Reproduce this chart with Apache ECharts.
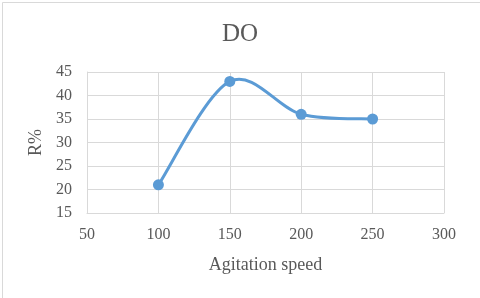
<!DOCTYPE html>
<html>
<head>
<meta charset="utf-8">
<script src="https://cdn.jsdelivr.net/npm/echarts@6/dist/echarts.min.js"></script>
<style>
html,body{margin:0;padding:0;background:#fff;}
#c{width:480px;height:298px;}
</style>
</head>
<body>
<div id="c"></div>
<script>
var speeds = [100, 150, 200, 250];
var rValues = [21, 43, 36, 35];
var titleText = 'DO';
var xName = 'Agitation speed';
var yName = 'R%';

var points = speeds.map(function (s, i) { return [s, rValues[i]]; });

var chart = echarts.init(document.getElementById('c'), null, {renderer: 'canvas'});
var font = '"Liberation Serif", "Times New Roman", serif';
var txt = '#595959';
var grid = '#d9d9d9';
var blue = '#5b9bd5';

function renderCurve(params, api) {
  if (params.dataIndex !== 0) return null;
  var p = points.map(function (d) { return api.coord(d); });
  var n = p.length;
  var d = 'M' + p[0][0] + ' ' + p[0][1];
  for (var i = 0; i < n - 1; i++) {
    var p0 = p[i - 1] || p[i];
    var p1 = p[i];
    var p2 = p[i + 1];
    var p3 = p[i + 2] || p[i + 1];
    var c1x = p1[0] + (p2[0] - p0[0]) / 6;
    var c1y = p1[1] + (p2[1] - p0[1]) / 6;
    var c2x = p2[0] - (p3[0] - p1[0]) / 6;
    var c2y = p2[1] - (p3[1] - p1[1]) / 6;
    d += ' C' + c1x + ' ' + c1y + ' ' + c2x + ' ' + c2y + ' ' + p2[0] + ' ' + p2[1];
  }
  return {
    type: 'path',
    shape: {pathData: d},
    style: {fill: 'none', stroke: blue, lineWidth: 3}
  };
}

chart.setOption({
  animation: false,
  backgroundColor: '#fff',
  graphic: [{
    type: 'rect', left: 0, top: 0, z: -1,
    shape: {x: 0.5, y: 0.5, width: 479, height: 297},
    style: {fill: 'none', stroke: '#d9d9d9', lineWidth: 1}
  }],
  title: {
    text: titleText, left: 'center', top: 17,
    textStyle: {fontFamily: font, fontSize: 25, fontWeight: 'normal', color: txt}
  },
  grid: {left: 87, right: 36, top: 72, bottom: 85, containLabel: false},
  xAxis: {
    type: 'value', min: 50, max: 300, interval: 50,
    name: xName, nameLocation: 'middle', nameGap: 43,
    nameTextStyle: {fontFamily: font, fontSize: 18, color: txt},
    axisLine: {show: true, lineStyle: {color: grid, width: 1}},
    axisTick: {show: false},
    axisLabel: {fontFamily: font, fontSize: 16, color: txt, margin: 14},
    splitLine: {show: true, lineStyle: {color: grid, width: 1}}
  },
  yAxis: {
    type: 'value', min: 15, max: 45, interval: 5,
    name: yName, nameLocation: 'middle', nameGap: 41, nameRotate: 90,
    nameTextStyle: {fontFamily: font, fontSize: 18, color: txt},
    axisLine: {show: true, lineStyle: {color: grid, width: 1}},
    axisTick: {show: false},
    axisLabel: {fontFamily: font, fontSize: 16, color: txt, margin: 15},
    splitLine: {show: true, lineStyle: {color: grid, width: 1}}
  },
  series: [{
    type: 'custom',
    renderItem: renderCurve,
    data: points,
    z: 2
  }, {
    type: 'scatter',
    data: points,
    symbol: 'circle', symbolSize: 11,
    itemStyle: {color: blue, opacity: 1},
    z: 3
  }]
});
</script>
</body>
</html>
